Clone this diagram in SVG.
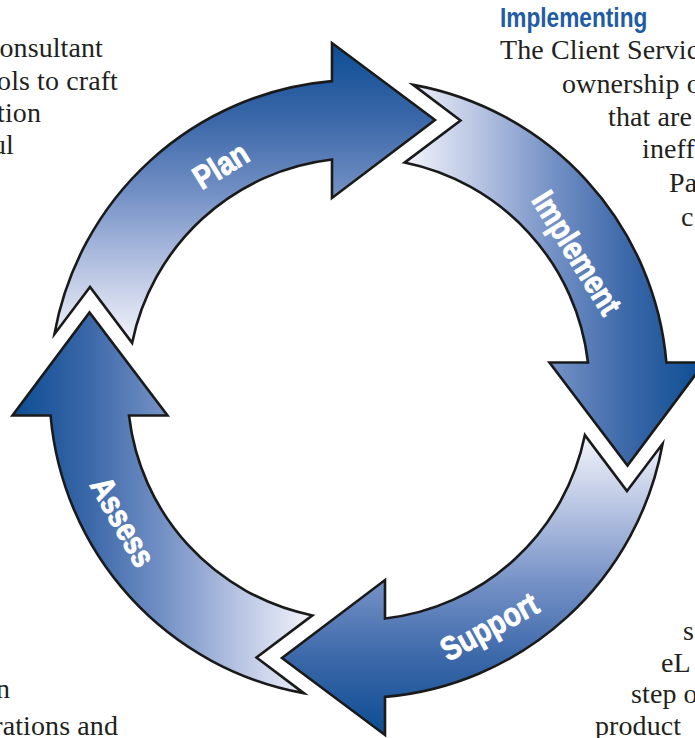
<svg xmlns="http://www.w3.org/2000/svg" width="695" height="738" viewBox="0 0 695 738">
  <style>
    .arrow { fill: url(#flow); stroke: #1a1a1a; stroke-width: 2.6; stroke-linejoin: miter; stroke-miterlimit: 10; }
    .label { font-family: "Liberation Sans", "DejaVu Sans", sans-serif; font-weight: bold; font-size: 33px; fill: #ffffff; stroke: #ffffff; stroke-width: 0.9; text-anchor: middle; }
    .body { font-family: "Liberation Serif", "DejaVu Serif", serif; font-size: 28px; letter-spacing: 0.1px; fill: #231f20; }
    .end { text-anchor: end; }
    .heading { font-family: "Liberation Sans", "DejaVu Sans", sans-serif; font-weight: bold; font-size: 27px; fill: #1f5ca3; }
  </style>
  <defs>
    <!-- shading runs from the pale tail to the dark head of each segment -->
    <linearGradient id="flow" gradientUnits="userSpaceOnUse" x1="0" y1="43" x2="0" y2="343">
      <stop offset="0" stop-color="#0c4d93"/>
      <stop offset="0.25" stop-color="#3a67a8"/>
      <stop offset="0.5" stop-color="#7390c5"/>
      <stop offset="0.75" stop-color="#b6c3e2"/>
      <stop offset="1" stop-color="#f4f5fb"/>
    </linearGradient>
    <!-- one quarter of the cycle ring, centred on (358.5, 389): notched tail, curved band, straight head -->
    <path id="segment" d="M 90 287 L 54.4 334.2 A 309 309 0 0 1 332 81.1 L 332 43 L 435 120 L 332 198 L 332 159.5 A 231 231 0 0 0 132.1 342.9 Z"/>
  </defs>

  <!-- surrounding copy -->
  <g id="copy">
    <text class="body end" x="103" y="57">onsultant</text>
    <text class="body end" x="118" y="90">ols to craft</text>
    <text class="body end" x="41" y="122">tion</text>
    <text class="body end" x="14" y="154">ul</text>

    <text class="heading" x="500" y="27" transform="translate(500 0) scale(0.84 1) translate(-500 0)">Implementing</text>
    <text class="body" x="500" y="59">The Client Servic</text>
    <text class="body" x="562" y="93">ownership o</text>
    <text class="body" x="608" y="126">that are</text>
    <text class="body" x="642" y="158">ineff</text>
    <text class="body" x="669" y="192">Pa</text>
    <text class="body" x="681" y="226">c</text>

    <text class="body" x="683" y="640">s</text>
    <text class="body" x="661" y="672">eL</text>
    <text class="body" x="631" y="703">step o</text>
    <text class="body" x="595" y="735">product</text>

    <text class="body end" x="10" y="698">n</text>
    <text class="body end" x="118" y="735">rations and</text>
  </g>

  <g id="plan">
    <use href="#segment" class="arrow"/>
    <g transform="translate(220.5 165) rotate(-31.6)">
      <text class="label" transform="scale(0.84 1)" y="12">Plan</text>
    </g>
  </g>

  <g id="implement">
    <use href="#segment" class="arrow" transform="rotate(90 358.5 389)"/>
    <g transform="translate(577.5 252.5) rotate(58.1)">
      <text class="label" transform="scale(0.84 1)" y="12">Implement</text>
    </g>
  </g>

  <g id="support">
    <use href="#segment" class="arrow" transform="rotate(180 358.5 389)"/>
    <g transform="translate(489 626) rotate(-28.8)">
      <text class="label" transform="scale(0.84 1)" y="12">Support</text>
    </g>
  </g>

  <g id="assess">
    <use href="#segment" class="arrow" transform="rotate(270 358.5 389)"/>
    <g transform="translate(123.5 521.5) rotate(60.6)">
      <text class="label" transform="scale(0.84 1)" y="12">Assess</text>
    </g>
  </g>
</svg>
